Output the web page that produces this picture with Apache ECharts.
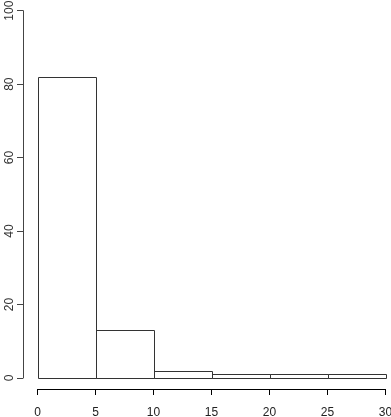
<!DOCTYPE html>
<html>
<head>
<meta charset="utf-8">
<script src="https://cdn.jsdelivr.net/npm/echarts@6/dist/echarts.min.js"></script>
<style>html,body{margin:0;padding:0;background:#fff}#c{width:391px;height:417px}</style>
</head>
<body>
<div id="c"></div>
<script>
var binStarts = [0, 5, 10, 15, 20, 25];
var binEnds = [5, 10, 15, 20, 25, 30];
var counts = [82, 13, 2, 1, 1, 1];
var xTicks = [0, 5, 10, 15, 20, 25, 30];
var yTicks = [0, 20, 40, 60, 80, 100];

var data = binStarts.map(function (s, i) { return [s, binEnds[i], counts[i]]; });

var chart = echarts.init(document.getElementById('c'), null, {renderer: 'canvas'});
var font = '"Liberation Sans", Arial, sans-serif';
chart.setOption({
  animation: false,
  grid: {left: 37.5, right: 5.5, top: 10.7, bottom: 39, containLabel: false, outerBoundsMode: 'none'},
  xAxis: {
    type: 'value', min: 0, max: 30, interval: 5, offset: 11,
    axisLine: {show: true, onZero: false, lineStyle: {color: '#000', width: 1}},
    axisTick: {show: true, length: 6, inside: false, lineStyle: {color: '#000'}},
    axisLabel: {color: '#222', fontSize: 12, fontFamily: font, margin: 18},
    splitLine: {show: false}
  },
  yAxis: {
    type: 'value', min: 0, max: 100, interval: 20, offset: 14.5,
    axisLine: {show: true, onZero: false, lineStyle: {color: '#444', width: 1}},
    axisTick: {show: true, length: 6, lineStyle: {color: '#444'}},
    axisLabel: {color: '#333', fontSize: 12, fontFamily: font, rotate: 90, margin: 7},
    splitLine: {show: false}
  },
  series: [{
    type: 'custom',
    data: data,
    encode: {x: [0, 1], y: 2},
    renderItem: function (params, api) {
      var p0 = api.coord([api.value(0), 0]);
      var p1 = api.coord([api.value(1), api.value(2)]);
      return {
        type: 'rect',
        shape: {x: Math.round(p0[0]) + 0.5, y: Math.round(p1[1]) + 0.5,
                width: Math.round(p1[0]) - Math.round(p0[0]),
                height: Math.round(p0[1]) - Math.round(p1[1])},
        style: {fill: 'none', stroke: '#333', lineWidth: 1}
      };
    }
  }]
});
</script>
</body>
</html>
